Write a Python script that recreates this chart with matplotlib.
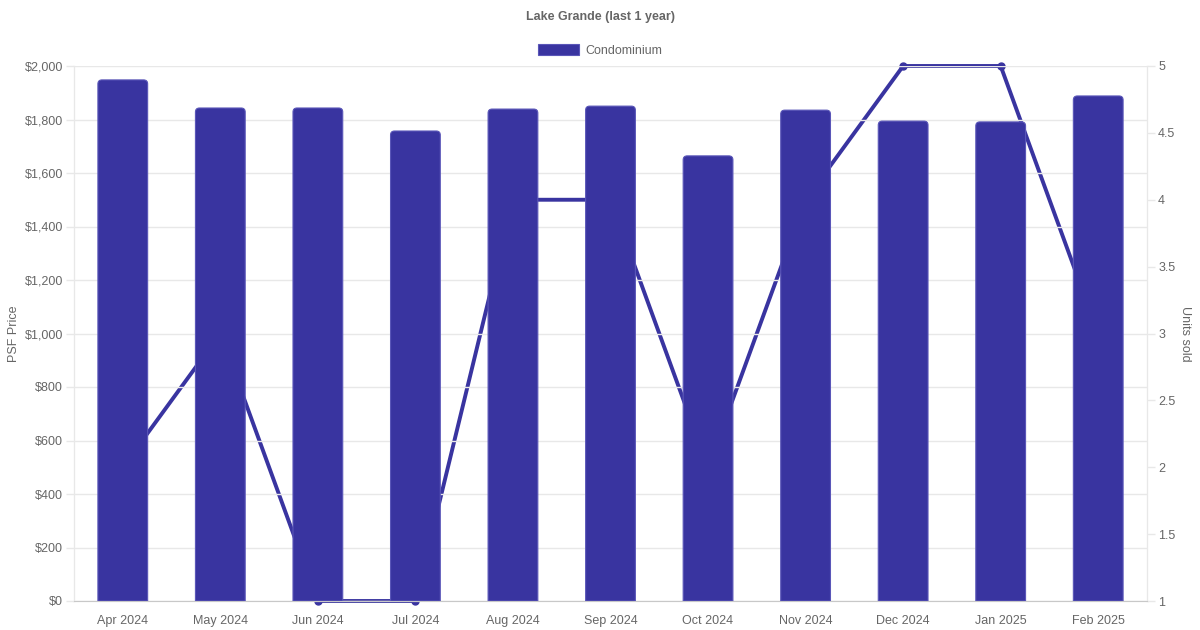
import matplotlib
matplotlib.use("Agg")
import matplotlib.pyplot as plt
from matplotlib.ticker import FuncFormatter, MultipleLocator
from matplotlib.path import Path
from matplotlib.patches import PathPatch
from matplotlib.transforms import IdentityTransform

months = ["Apr 2024", "May 2024", "Jun 2024", "Jul 2024", "Aug 2024", "Sep 2024",
          "Oct 2024", "Nov 2024", "Dec 2024", "Jan 2025", "Feb 2025"]
psf_price = [1948, 1843, 1843, 1757, 1839, 1850, 1664, 1835, 1794, 1791, 1888]
units_sold = [2, 3, 1, 1, 4, 4, 2, 4, 5, 5, 3]

plt.rcParams['font.family'] = ['Liberation Sans', 'DejaVu Sans']
BAR = "#3934A0"
TXT = "#666666"
GRID = "#e8e8e8"

fig = plt.figure(figsize=(12, 6.3), dpi=100)
ax = fig.add_axes([74/1200, 29/630, 1073/1200, 535/630])
ax2 = ax.twinx()
ax.set_zorder(2)
ax.patch.set_visible(False)
ax2.set_zorder(1)

x = list(range(len(months)))
bars = ax.bar(x, psf_price, width=0.51, color=BAR, edgecolor="#5a56b8", linewidth=0.8,
              label="Condominium", zorder=3)
ax2.plot(x, units_sold, color=BAR, linewidth=2.8, marker='o', markersize=5,
         clip_on=False, zorder=2)

ax.set_xlim(-0.5, len(months) - 0.5)
ax.set_ylim(0, 2000)
ax2.set_ylim(1, 5)
ax.yaxis.set_major_locator(MultipleLocator(200))
ax.yaxis.set_major_formatter(FuncFormatter(lambda v, p: f"${v:,.0f}"))
ax2.yaxis.set_major_locator(MultipleLocator(0.5))
ax2.yaxis.set_major_formatter(FuncFormatter(lambda v, p: f"{v:g}"))

ax.set_xticks(x)
ax.set_xticklabels(months)
ax.grid(axis='y', color=GRID, linewidth=1, zorder=0)
ax.set_axisbelow(True)

for a in (ax, ax2):
    for s in a.spines.values():
        s.set_color(GRID)
    a.tick_params(colors=TXT, labelsize=9, length=5.8, width=1)
    a.tick_params(axis='y', color=GRID, pad=2.2)
ax.spines['bottom'].set_color("#c8c8c8")
ax.tick_params(axis='x', length=0, pad=10)
ax2.spines['top'].set_visible(False)
ax.spines['top'].set_visible(False)

ax.set_ylabel("PSF Price", color=TXT, fontsize=9, labelpad=3)
ax2.set_ylabel("Units sold", color=TXT, fontsize=9, rotation=270, labelpad=11)

fig.text(0.5, 1 - 17/630, "Lake Grande (last 1 year)", ha='center', va='center',
         fontsize=9, fontweight='bold', color=TXT)
leg = fig.legend(handles=[bars], labels=["Condominium"], loc='center',
                 bbox_to_anchor=(0.5, 1 - 50.5/630), frameon=False, fontsize=9,
                 handlelength=3.3, handleheight=1.0, handletextpad=0.5)
for t in leg.get_texts():
    t.set_color(TXT)

# rounded top corners on bars
fig.canvas.draw()
r = 4.0
for rect in bars.patches:
    bb = rect.get_window_extent()
    x0, y0, x1, y1 = bb.x0, bb.y0, bb.x1, bb.y1
    verts = [(x0, y0), (x0, y1 - r), (x0, y1), (x0 + r, y1), (x1 - r, y1), (x1, y1),
             (x1, y1 - r), (x1, y0), (x0, y0)]
    codes = [Path.MOVETO, Path.LINETO, Path.CURVE3, Path.CURVE3, Path.LINETO,
             Path.CURVE3, Path.CURVE3, Path.LINETO, Path.CLOSEPOLY]
    pp = PathPatch(Path(verts, codes), facecolor=BAR, edgecolor="#5a56b8", linewidth=0.8,
                   transform=IdentityTransform(), zorder=3)
    ax.add_artist(pp)
    rect.set_visible(False)

fig.savefig("out.png", dpi=100)
